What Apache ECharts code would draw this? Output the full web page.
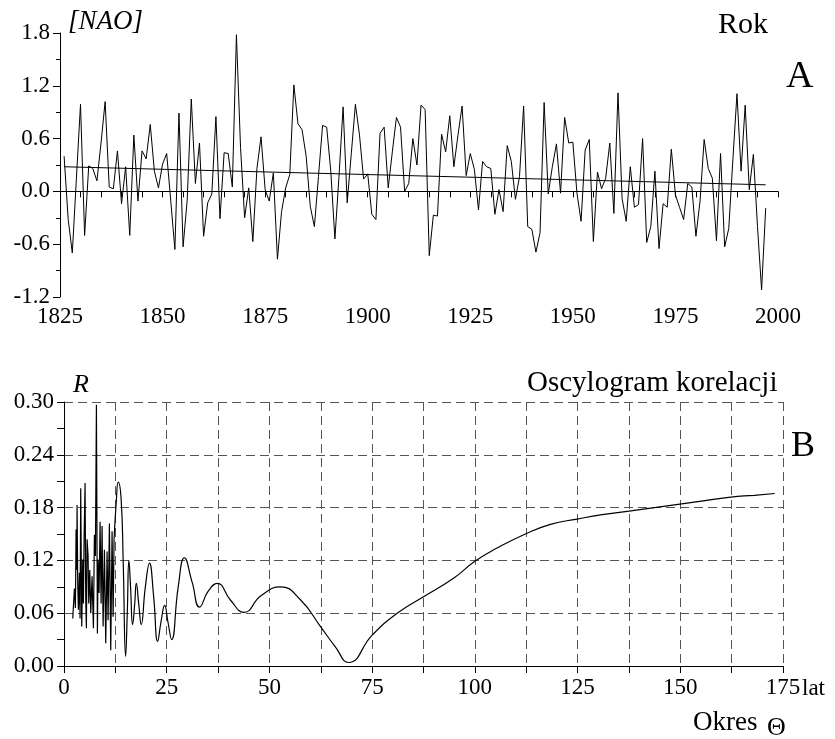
<!DOCTYPE html>
<html>
<head>
<meta charset="utf-8">
<script src="https://cdn.jsdelivr.net/npm/echarts@6/dist/echarts.min.js"></script>
<style>
html,body{margin:0;padding:0;background:#fff;}
#chart{width:835px;height:739px;}
</style>
</head>
<body>
<div id="chart"></div>
<script>
// ---- Panel A: NAO index, yearly ----
const firstYear = 1826;
const nao = [
  0.40, -0.32, -0.70, 0.15, 0.99, -0.50, 0.29, 0.26, 0.12, 0.55,
  1.02, 0.05, 0.03, 0.46, -0.14, 0.28, -0.50, 0.64, -0.11, 0.46,
  0.37, 0.76, 0.23, 0.04, 0.31, 0.43, -0.11, -0.66, 0.89, -0.63,
  -0.10, 1.05, 0.09, 0.55, -0.51, -0.13, -0.03, 0.85, -0.31, 0.44,
  0.43, 0.05, 1.78, 0.50, -0.30, 0.04, -0.57, 0.26, 0.62, 0.02,
  -0.11, 0.21, -0.77, -0.23, 0.04, 0.19, 1.21, 0.77, 0.70, 0.40,
  -0.17, -0.40, 0.17, 0.75, 0.73, 0.23, -0.54, 0.17, 0.96, -0.13,
  0.43, 0.99, 0.64, 0.14, 0.20, -0.26, -0.32, 0.66, 0.73, 0.04,
  0.45, 0.84, 0.73, 0.00, 0.09, 0.60, 0.30, 0.98, 0.93, -0.73,
  -0.27, -0.28, 0.65, 0.45, 0.86, 0.28, 0.64, 0.97, 0.18, 0.43,
  0.25, -0.21, 0.34, 0.28, 0.26, -0.26, 0.02, -0.23, 0.52, 0.34,
  -0.09, 0.17, 0.97, -0.40, -0.43, -0.69, -0.47, 1.01, -0.03, 0.28,
  0.54, -0.02, 0.84, 0.55, 0.56, -0.02, -0.34, 0.47, 0.59, -0.57,
  0.22, 0.03, 0.15, 0.55, -0.25, 1.12, -0.08, -0.34, 0.28, -0.18,
  -0.15, 0.60, -0.58, -0.40, 0.23, -0.65, -0.14, -0.18, 0.48, -0.04,
  -0.18, -0.32, 0.09, 0.05, -0.51, -0.11, 0.59, 0.26, 0.15, -0.56,
  0.43, -0.63, -0.42, 0.36, 1.11, 0.23, 0.98, 0.02, 0.42, -0.40,
  -1.12, -0.19
];
const trendYears = [1826, 1997];
const trendValues = [0.28, 0.075];

// ---- Panel B: correlation oscillogram ----
// short periods (jagged part)
const periodsDense = [
  2.13, 2.53, 2.78, 2.94, 3.10, 3.18, 3.34, 3.51, 3.75, 3.91,
  4.07, 4.32, 4.56, 4.72, 4.89, 5.13, 5.29, 5.45, 5.62, 5.86,
  6.02, 6.27, 6.51, 6.83, 7.16, 7.40, 7.65, 7.89, 8.13, 8.29,
  8.54, 8.78, 9.03, 9.27, 9.52, 9.84, 10.16, 10.49, 10.73, 11.05,
  11.38, 11.70, 11.95, 12.19
];
const rDense = [
  0.054, 0.088, 0.066, 0.155, 0.109, 0.183, 0.094, 0.064, 0.106, 0.054,
  0.202, 0.045, 0.121, 0.071, 0.144, 0.208, 0.075, 0.043, 0.144, 0.125,
  0.071, 0.109, 0.060, 0.102, 0.043, 0.149, 0.125, 0.297, 0.037, 0.121,
  0.083, 0.164, 0.071, 0.159, 0.045, 0.132, 0.026, 0.130, 0.052, 0.162,
  0.018, 0.153, 0.056, 0.144
];
// longer periods (smooth part)
const periodsSmooth = [
  12.19, 12.7, 13.2, 13.9, 14.4, 15.0, 15.4, 15.8, 16.2, 16.7,
  17.2, 17.6, 18.2, 18.8, 19.8, 20.8, 21.8, 22.8, 23.6, 24.5,
  25.3, 26.2, 27.8, 29.3, 31.2, 33.0, 35.1, 37.3, 40.5, 43.8,
  48.0, 52.7, 57.6, 62.4, 66.0, 69.3, 75.0, 81.1, 87.6, 94.9,
  100.0, 105.4, 112.3, 118.4, 124.9, 131.0, 137.5, 143.7, 149.9, 156.0,
  162.3, 168.0, 173.0
];
const rSmooth = [
  0.144, 0.185, 0.209, 0.190, 0.120, 0.011, 0.060, 0.120, 0.090, 0.047,
  0.070, 0.094, 0.070, 0.047, 0.090, 0.117, 0.080, 0.028, 0.050, 0.069,
  0.050, 0.030, 0.090, 0.123, 0.095, 0.067, 0.085, 0.094, 0.075, 0.061,
  0.080, 0.090, 0.075, 0.045, 0.022, 0.004, 0.035, 0.060, 0.079, 0.100,
  0.119, 0.134, 0.150, 0.161, 0.167, 0.172, 0.176, 0.180, 0.184, 0.188,
  0.192, 0.194, 0.196
];

const FONT = 'Liberation Serif';
const zip = (xs, ys) => xs.map((x, i) => [x, ys[i]]);
const naoData = nao.map((v, i) => [firstYear + i, v]);

const axisLabelStyle = { fontFamily: FONT, fontSize: 23, color: '#000' };
const blackLine = { lineStyle: { color: '#000', width: 1 } };
const dashed = { show: true, lineStyle: { color: '#555', width: 1, type: [9, 5] } };

const chart = echarts.init(document.getElementById('chart'), null, { renderer: 'canvas' });
chart.setOption({
  animation: false,
  backgroundColor: '#fff',
  grid: [
    { left: 60, top: 33, width: 718, height: 264 },
    { left: 64, top: 402, width: 719, height: 264 }
  ],
  xAxis: [
    {
      gridIndex: 0, type: 'value', min: 1825, max: 2000, interval: 25,
      axisLine: blackLine,
      axisTick: { show: true, length: 6, lineStyle: { color: '#000' } },
      minorTick: { show: true, splitNumber: 5, length: 6, lineStyle: { color: '#000' } },
      splitLine: { show: false },
      axisLabel: Object.assign({ margin: 8, formatter: v => String(Math.round(v)) }, axisLabelStyle)
    },
    {
      gridIndex: 1, type: 'value', min: 0, max: 175, interval: 12.5,
      axisLine: blackLine,
      axisTick: { show: true, length: 7, lineStyle: { color: '#000' } },
      splitLine: dashed,
      axisLabel: Object.assign({
        margin: 10,
        formatter: v => (Math.round(v * 2) % 50 === 0 ? String(Math.round(v)) : '')
      }, axisLabelStyle)
    }
  ],
  yAxis: [
    {
      gridIndex: 0, type: 'value', min: -1.2, max: 1.8, interval: 0.6,
      axisLine: Object.assign({ show: true }, blackLine),
      axisTick: { show: true, length: 7, lineStyle: { color: '#000' } },
      minorTick: { show: true, splitNumber: 2, length: 4, lineStyle: { color: '#000' } },
      splitLine: { show: false },
      axisLabel: Object.assign({
        margin: 10,
        formatter: v => { const s = (Math.round(v * 10) / 10).toFixed(1); return s === '-0.0' ? '0.0' : s; }
      }, axisLabelStyle)
    },
    {
      gridIndex: 1, type: 'value', min: 0, max: 0.30, interval: 0.06,
      axisLine: Object.assign({ show: true }, blackLine),
      axisTick: { show: true, length: 7, lineStyle: { color: '#000' } },
      minorTick: { show: true, splitNumber: 2, length: 7, lineStyle: { color: '#000' } },
      splitLine: dashed,
      axisLabel: Object.assign({
        margin: 10,
        formatter: v => (Math.round(v * 100) / 100).toFixed(2)
      }, axisLabelStyle)
    }
  ],
  series: [
    {
      type: 'line', xAxisIndex: 0, yAxisIndex: 0, data: naoData,
      showSymbol: false, lineStyle: { color: '#000', width: 1 }, z: 3
    },
    {
      type: 'line', xAxisIndex: 0, yAxisIndex: 0, data: zip(trendYears, trendValues),
      showSymbol: false, lineStyle: { color: '#000', width: 1 }, z: 3
    },
    {
      type: 'line', xAxisIndex: 1, yAxisIndex: 1, data: zip(periodsDense, rDense),
      showSymbol: false, lineStyle: { color: '#000', width: 1.2 }, z: 3
    },
    {
      type: 'line', xAxisIndex: 1, yAxisIndex: 1, data: zip(periodsSmooth, rSmooth),
      showSymbol: false, smooth: 0.5,
      lineStyle: { color: '#000', width: 1.2 }, z: 3
    }
  ],
  graphic: [
    { type: 'text', left: 68, top: 8, style: { text: '[NAO]', font: 'italic 27px "Liberation Serif"', fill: '#000' } },
    { type: 'text', left: 718, top: 10, style: { text: 'Rok', font: '30px "Liberation Serif"', fill: '#000' } },
    { type: 'text', left: 786, top: 58, style: { text: 'A', font: '38px "Liberation Serif"', fill: '#000' } },
    { type: 'text', left: 73, top: 372, style: { text: 'R', font: 'italic 26px "Liberation Serif"', fill: '#000' } },
    { type: 'text', left: 527, top: 369, style: { text: 'Oscylogram korelacji', font: '29px "Liberation Serif"', fill: '#000' } },
    { type: 'text', left: 791, top: 429, style: { text: 'B', font: '36px "Liberation Serif"', fill: '#000' } },
    { type: 'text', left: 802, top: 677, style: { text: 'lat', font: '23px "Liberation Serif"', fill: '#000' } },
    { type: 'text', left: 693, top: 709, style: { text: 'Okres', font: '27px "Liberation Serif"', fill: '#000' } },
    { type: 'text', left: 767, top: 715, style: { text: 'Θ', font: '26px "Liberation Serif"', fill: '#000' } }
  ]
});
</script>
</body>
</html>
